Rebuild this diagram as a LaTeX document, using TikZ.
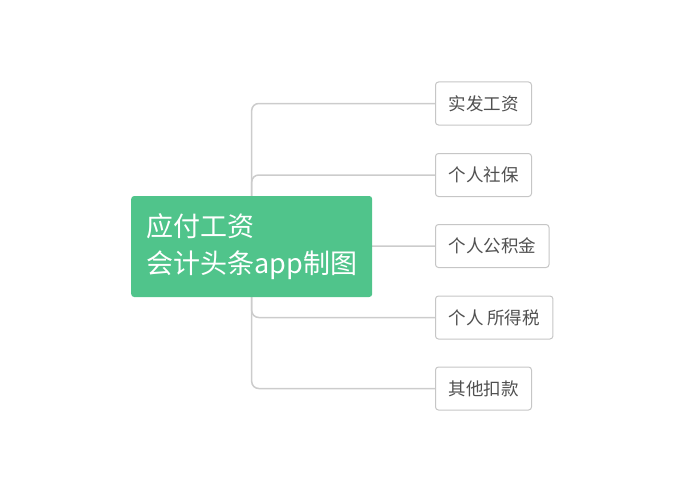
\documentclass[tikz,border=0pt]{standalone}
\usepackage{fontspec}
\setmainfont{Noto Sans CJK SC}
\usetikzlibrary{backgrounds}
\definecolor{verde}{HTML}{50C48B}
\definecolor{linha}{HTML}{CCCCCC}
\definecolor{borda}{HTML}{C6C6C6}
\definecolor{texto}{HTML}{505050}
\begin{document}
\begin{tikzpicture}[x=1pt,y=-1pt]
        %======estilos dos blocos==========%

            \tikzstyle{raiz}=[rectangle,fill=verde,rounded corners=3pt,text=white,align=left,
                inner xsep=15pt,minimum width=241pt,minimum height=101pt,anchor=west,
                font=\fontsize{27pt}{37pt}\selectfont]
            \tikzstyle{folha}=[rectangle,draw=borda,line width=1pt,fill=white,rounded corners=3pt,
                text=texto,inner xsep=13pt,minimum height=43pt,anchor=west,
                font=\fontsize{17.5pt}{20pt}\selectfont]
            \tikzstyle{edge}=[draw=linha,line width=1.5pt,rounded corners=7pt]

        %====================%%=============%

            \useasboundingbox (0,0) rectangle (700,500);

            \node[raiz](R) at (131,246.5) {应付工资\\会计头条app制图};
            \node[folha](A) at (435,103.5) {实发工资};
            \node[folha](B) at (435,175) {个人社保};
            \node[folha](C) at (435,246) {个人公积金};
            \node[folha](D) at (435,317.5) {个人 所得税};
            \node[folha](E) at (435,388.5) {其他扣款};

            \begin{scope}[on background layer]
            \draw[edge](R.center) |- (A.west);
            \draw[edge](R.center) |- (B.west);
            \draw[edge](R.center) |- (C.west);
            \draw[edge](R.center) |- (D.west);
            \draw[edge](R.center) |- (E.west);
            \end{scope}
        \end{tikzpicture}
\end{document}
